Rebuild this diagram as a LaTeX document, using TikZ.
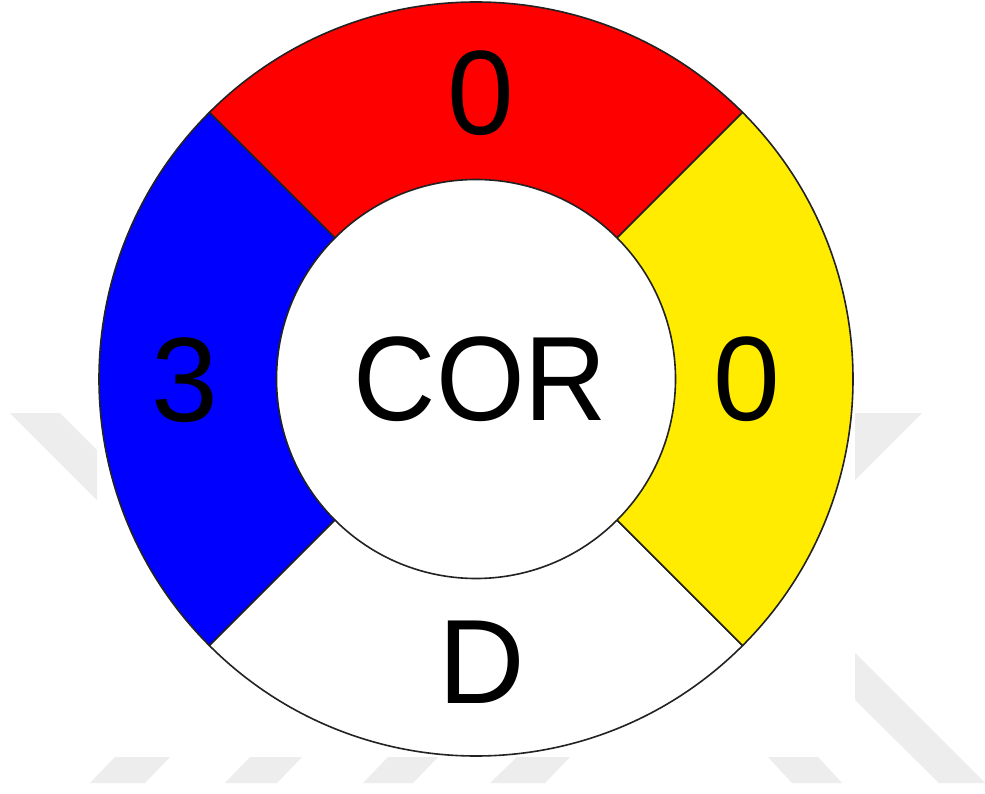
\documentclass[tikz,border=0pt]{standalone}
\usepackage{fontspec}
\setmainfont{Liberation Sans}
\definecolor{wmgray}{RGB}{237,237,237}
\definecolor{segred}{RGB}{255,0,0}
\definecolor{segblue}{RGB}{0,0,255}
\definecolor{segyellow}{RGB}{255,236,0}
\definecolor{edgecol}{RGB}{34,34,34}
\tikzset{
  wm/.style={fill=wmgray, draw=none},
  seg/.style={draw=edgecol, line width=1.6pt, line join=round},
  lbl/.style={inner sep=0pt, anchor=base, text=black, font=\fontsize{120}{120}\selectfont}
}
\begin{document}
\begin{tikzpicture}[x=1pt, y=-1pt]
  \useasboundingbox (0,0) rectangle (985,794);
  \fill[white] (0,0) rectangle (985,794);
  % faint watermark (visible parts only)
  \path[wm] (10,413) -- (60,413) -- (97,450) -- (97,500) -- cycle;
  \path[wm] (855,413) -- (922,413) -- (855,480) -- cycle;
  \path[wm] (855,653) -- (985,783) -- (939,783) -- (855,700) -- cycle;
  \path[wm] (90,783) -- (115,757) -- (170,757) -- (145,783) -- cycle;
  \path[wm] (225,783) -- (250,757) -- (302,757) -- (277,783) -- cycle;
  \path[wm] (363,783) -- (388,757) -- (438,757) -- (413,783) -- cycle;
  \path[wm] (490,783) -- (517,757) -- (570,757) -- (545,783) -- cycle;
  \path[wm] (768,757) -- (818,757) -- (842,783) -- (792,783) -- cycle;
  % ring
  \begin{scope}[shift={(476,379)}]
    \def\Ro{377pt}
    \def\Ri{199.5pt}
    \filldraw[seg, fill=segred]
      (45:\Ri) -- (45:\Ro) arc[start angle=45, end angle=135, radius=\Ro]
      -- (135:\Ri) arc[start angle=135, end angle=45, radius=\Ri] -- cycle;
    \filldraw[seg, fill=segblue]
      (135:\Ri) -- (135:\Ro) arc[start angle=135, end angle=225, radius=\Ro]
      -- (225:\Ri) arc[start angle=225, end angle=135, radius=\Ri] -- cycle;
    \filldraw[seg, fill=white]
      (225:\Ri) -- (225:\Ro) arc[start angle=225, end angle=315, radius=\Ro]
      -- (315:\Ri) arc[start angle=315, end angle=225, radius=\Ri] -- cycle;
    \filldraw[seg, fill=segyellow]
      (-45:\Ri) -- (-45:\Ro) arc[start angle=-45, end angle=45, radius=\Ro]
      -- (45:\Ri) arc[start angle=45, end angle=-45, radius=\Ri] -- cycle;
  \end{scope}
  % labels
  \node[lbl] (top) at (481,135) {0};
  \node[lbl, xscale=0.95] (core) at (480.5,420) {COR};
  \node[lbl] (left) at (185,421) {3};
  \node[lbl] (right) at (747,420) {0};
  \node[lbl] (bottom) at (481.5,703) {D};
\end{tikzpicture}
\end{document}
